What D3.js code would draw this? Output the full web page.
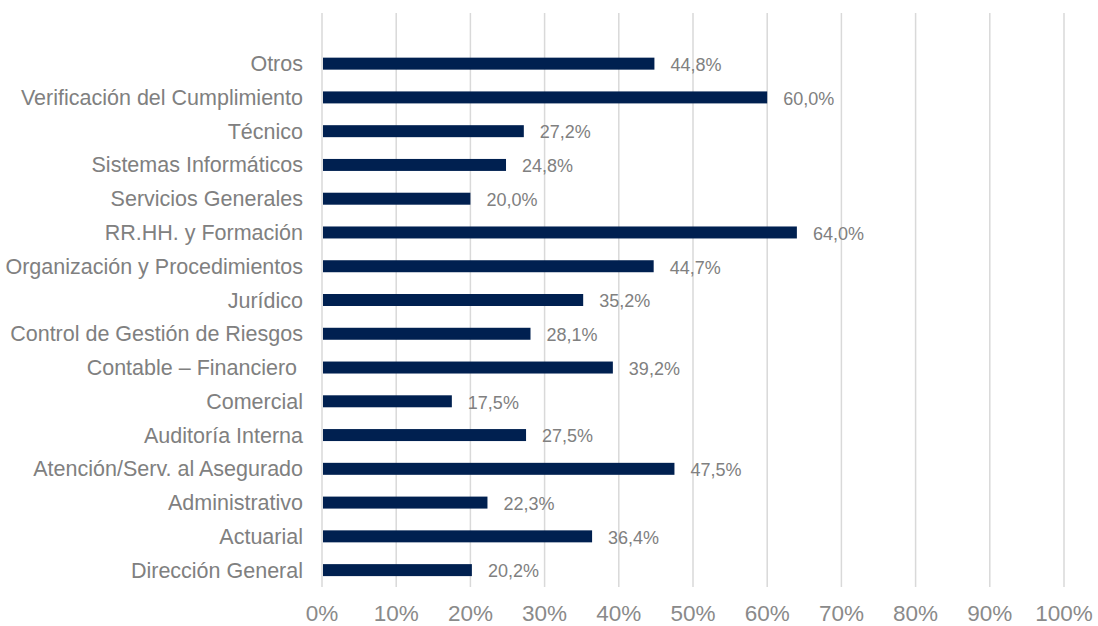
<!DOCTYPE html>
<html lang="es">
<head>
  <meta charset="UTF-8" />
  <title>Distribución por área</title>
  <script src="https://d3js.org/d3.v7.min.js"></script>
  <style>
    body {
      margin: 0;
      background: #ffffff;
      font-family: 'Liberation Sans', Arial, sans-serif;
    }
    .grid line { stroke: #d9d9d9; stroke-width: 1.5px; }
    .cat-label { font-size: 21.5px; fill: #808080; white-space: pre; }
    .tick-label { font-size: 22.5px; fill: #8a8a8a; }
    .value-label { font-size: 18px; fill: #808080; }
  </style>
</head>
<body>
  <svg id="chart"></svg>
  <script>
    // Categories, top to bottom as they appear in the chart
    const categories = [
      "Otros",
      "Verificación del Cumplimiento",
      "Técnico",
      "Sistemas Informáticos",
      "Servicios Generales",
      "RR.HH. y Formación",
      "Organización y Procedimientos",
      "Jurídico",
      "Control de Gestión de Riesgos",
      "Contable – Financiero ",
      "Comercial",
      "Auditoría Interna",
      "Atención/Serv. al Asegurado",
      "Administrativo",
      "Actuarial",
      "Dirección General"
    ];

    // Percentages (same order as categories)
    const values = [44.8, 60.0, 27.2, 24.8, 20.0, 64.0, 44.7, 35.2, 28.1, 39.2, 17.5, 27.5, 47.5, 22.3, 36.4, 20.2];

    const xTicks = [0, 10, 20, 30, 40, 50, 60, 70, 80, 90, 100];

    const width = 1098, height = 626;
    const plot = { left: 322, right: 1064, top: 13, bottom: 587 };

    const svg = d3.select('#chart')
      .attr('width', width)
      .attr('height', height)
      .style('display', 'block');

    const x = d3.scaleLinear().domain([0, 100]).range([plot.left, plot.right]);

    // one empty slot above "Otros" in the original plot area
    const step = (plot.bottom - plot.top) / (categories.length + 1);
    const y = d3.scaleBand()
      .domain(categories)
      .range([plot.top + step, plot.bottom])
      .paddingInner(0.645)
      .paddingOuter(0.3225);

    const fmt = v => v.toFixed(1).replace('.', ',') + '%';

    // vertical gridlines
    svg.append('g').attr('class', 'grid')
      .selectAll('line')
      .data(xTicks)
      .join('line')
      .attr('x1', d => x(d)).attr('x2', d => x(d))
      .attr('y1', plot.top).attr('y2', plot.bottom);

    // x tick labels
    svg.append('g')
      .selectAll('text')
      .data(xTicks)
      .join('text')
      .attr('class', 'tick-label')
      .attr('x', d => x(d))
      .attr('y', 621)
      .attr('text-anchor', 'middle')
      .text(d => d + '%');

    const rows = categories.map((c, i) => ({ cat: c, value: values[i] }));

    // bars
    svg.append('g')
      .selectAll('rect')
      .data(rows)
      .join('rect')
      .attr('x', x(0) + 1)
      .attr('y', d => y(d.cat))
      .attr('width', d => x(d.value) - x(0) - 1)
      .attr('height', y.bandwidth())
      .attr('fill', '#002050');

    // category labels
    svg.append('g')
      .selectAll('text')
      .data(rows)
      .join('text')
      .attr('class', 'cat-label')
      .attr('x', plot.left - 19)
      .attr('y', d => y(d.cat) + y.bandwidth() / 2)
      .attr('dy', '0.35em')
      .attr('text-anchor', 'end')
      .attr('xml:space', 'preserve')
      .text(d => d.cat);

    // value labels
    svg.append('g')
      .selectAll('text')
      .data(rows)
      .join('text')
      .attr('class', 'value-label')
      .attr('x', d => x(d.value) + 16)
      .attr('y', d => y(d.cat) + y.bandwidth() / 2 + 1)
      .attr('dy', '0.35em')
      .text(d => fmt(d.value));
  </script>
</body>
</html>
